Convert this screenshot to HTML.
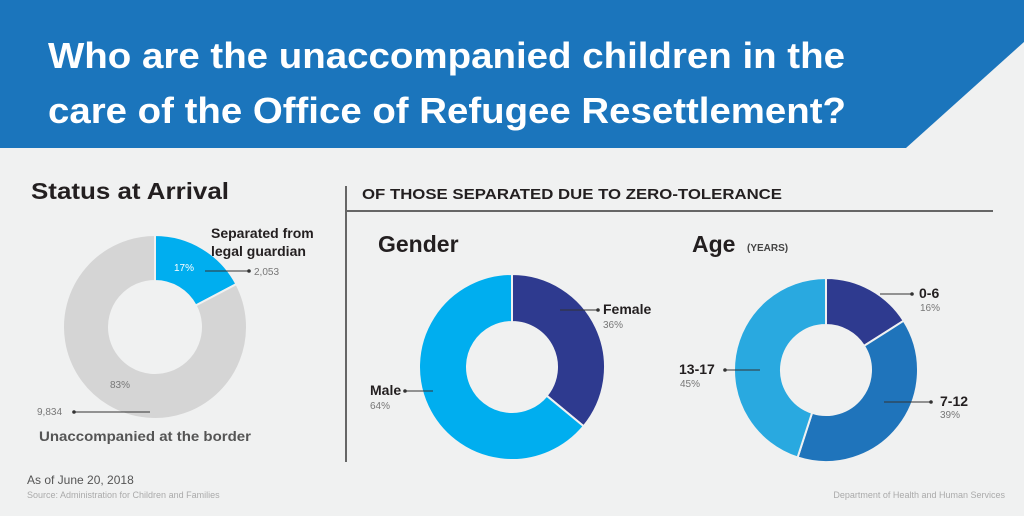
<!DOCTYPE html>
<html><head><meta charset="utf-8"><style>
body{margin:0;width:1024px;height:511px;overflow:hidden;background:#f0f1f1;font-family:"Liberation Sans",sans-serif}
svg text{font-family:"Liberation Sans",sans-serif}
</style></head><body>
<svg width="1024" height="511">
<rect width="1024" height="511" fill="#f0f1f1"/>
<polygon points="0,0 1024,0 1024,42 906,148 0,148" fill="#1b75bc"/>
<text x="48" y="68" fill="#fff" font-size="36" font-weight="bold" textLength="797" lengthAdjust="spacingAndGlyphs">Who are the unaccompanied children in the</text>
<text x="48" y="123" fill="#fff" font-size="36" font-weight="bold" textLength="798" lengthAdjust="spacingAndGlyphs">care of the Office of Refugee Resettlement?</text>
<text x="31" y="199" fill="#231f20" font-size="23" font-weight="bold" textLength="198" lengthAdjust="spacingAndGlyphs">Status at Arrival</text>
<line x1="346" y1="186" x2="346" y2="462" stroke="#666" stroke-width="2"/>
<line x1="346" y1="211" x2="993" y2="211" stroke="#666" stroke-width="2"/>
<text x="362" y="199" fill="#231f20" font-size="15" font-weight="bold" textLength="420" lengthAdjust="spacingAndGlyphs">OF THOSE SEPARATED DUE TO ZERO-TOLERANCE</text>
<text x="378" y="252" fill="#231f20" font-size="23" font-weight="bold">Gender</text>
<text x="692" y="252" fill="#231f20" font-size="23" font-weight="bold">Age</text>
<text x="747" y="251" fill="#444" font-size="10" font-weight="bold">(YEARS)</text>
<g id="d1"></g><g id="d2"></g><g id="d3"></g>
<text x="211" y="238" fill="#231f20" font-size="14" font-weight="bold">Separated from</text>
<text x="211" y="256" fill="#231f20" font-size="14" font-weight="bold">legal guardian</text>
<text x="174" y="271" fill="#fff" font-size="10">17%</text>
<line x1="205" y1="271" x2="249" y2="271" stroke="#333"/><circle cx="249" cy="271" r="1.8" fill="#333"/>
<text x="254" y="275" fill="#777" font-size="10">2,053</text>
<text x="110" y="388" fill="#777" font-size="10">83%</text>
<text x="37" y="415" fill="#777" font-size="10">9,834</text>
<line x1="74" y1="412" x2="150" y2="412" stroke="#333"/><circle cx="74" cy="412" r="1.8" fill="#333"/>
<text x="39" y="441" fill="#555" font-size="14" font-weight="bold" textLength="212" lengthAdjust="spacingAndGlyphs">Unaccompanied at the border</text>
<line x1="560" y1="310" x2="598" y2="310" stroke="#333"/><circle cx="598" cy="310" r="1.8" fill="#333"/>
<text x="603" y="314" fill="#231f20" font-size="14" font-weight="bold">Female</text>
<text x="603" y="328" fill="#777" font-size="10">36%</text>
<line x1="405" y1="391" x2="433" y2="391" stroke="#333"/><circle cx="405" cy="391" r="1.8" fill="#333"/>
<text x="370" y="395" fill="#231f20" font-size="14" font-weight="bold">Male</text>
<text x="370" y="409" fill="#777" font-size="10">64%</text>
<line x1="880" y1="294" x2="912" y2="294" stroke="#333"/><circle cx="912" cy="294" r="1.8" fill="#333"/>
<text x="919" y="298" fill="#231f20" font-size="14" font-weight="bold">0-6</text>
<text x="920" y="311" fill="#777" font-size="10">16%</text>
<line x1="884" y1="402" x2="931" y2="402" stroke="#333"/><circle cx="931" cy="402" r="1.8" fill="#333"/>
<text x="940" y="406" fill="#231f20" font-size="14" font-weight="bold">7-12</text>
<text x="940" y="418" fill="#777" font-size="10">39%</text>
<line x1="725" y1="370" x2="760" y2="370" stroke="#333"/><circle cx="725" cy="370" r="1.8" fill="#333"/>
<text x="679" y="374" fill="#231f20" font-size="14" font-weight="bold">13-17</text>
<text x="680" y="387" fill="#777" font-size="10">45%</text>
<text x="27" y="484" fill="#555" font-size="12">As of June 20, 2018</text>
<text x="27" y="498" fill="#aaa" font-size="9">Source: Administration for Children and Families</text>
<text x="1005" y="498" fill="#aaa" font-size="9" text-anchor="end">Department of Health and Human Services</text>
</svg>
<script>
const statusCategories=["Separated","Unaccompanied"];
const statusValues=[2053,9834];
const genderCategories=["Female","Male"];
const genderValues=[36,64];
const ageCategories=["0-6","7-12","13-17"];
const ageValues=[16,39,45];
function donut(gid,name,cats,vals,colors,cx,cy,R,r){
  const g=document.getElementById(gid);
  const tot=vals.reduce((a,b)=>a+b,0);let a0=0;
  vals.forEach((v,i)=>{
    const a1=a0+v/tot*2*Math.PI;
    const p=(a,rad)=>[cx+rad*Math.sin(a),cy-rad*Math.cos(a)];
    const [x0,y0]=p(a0,R),[x1,y1]=p(a1,R),[x2,y2]=p(a1,r),[x3,y3]=p(a0,r);
    const lg=(a1-a0)>Math.PI?1:0;
    const path=document.createElementNS("http://www.w3.org/2000/svg","path");
    path.setAttribute("d",`M${x0},${y0}A${R},${R} 0 ${lg} 1 ${x1},${y1}L${x2},${y2}A${r},${r} 0 ${lg} 0 ${x3},${y3}Z`);
    path.setAttribute("fill",colors[i]);path.setAttribute("stroke","#f0f1f1");path.setAttribute("stroke-width","2");
    
    
    g.appendChild(path);a0=a1;
  });
}
donut("d1","status",statusCategories,statusValues,["#00aeef","#d5d5d5"],155,327,92,46);
donut("d2","gender",genderCategories,genderValues,["#2e3a8f","#00aeef"],512,367,93,45);
donut("d3","age",ageCategories,ageValues,["#2e3a8f","#1f74bb","#29a9e0"],826,370,92,45);
</script>
</body></html>
